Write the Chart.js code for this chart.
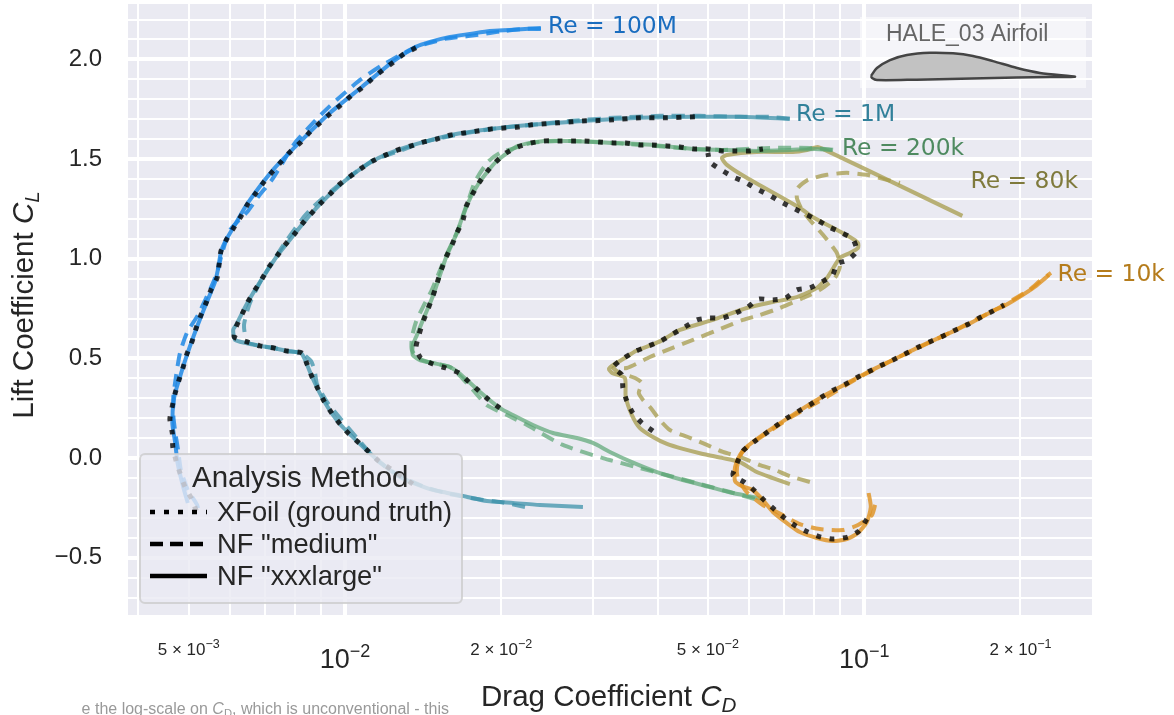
<!DOCTYPE html>
<html>
<head>
<meta charset="utf-8">
<title>HALE_03 Airfoil</title>
<script src="https://cdn.jsdelivr.net/npm/chart.js@4"></script>
<style>
    html, body { margin: 0; padding: 0; background: #fff; overflow: hidden; }
    #chart-polar { position: absolute; left: 0; top: 0; }
    #chart-airfoil { position: absolute; left: 860px; top: 44px; }
</style>
</head>
<body>
<canvas id="chart-polar" width="1174" height="715"></canvas>
<canvas id="chart-airfoil" width="226" height="44"></canvas>
<script>
// Axis ticks
var xGridValues = [0.004, 0.005, 0.006, 0.007, 0.008, 0.009, 0.01, 0.02, 0.03, 0.04, 0.05, 0.06, 0.07, 0.08, 0.09, 0.1, 0.2];
var xMajorValues = [0.01, 0.1];
var xTickValues = [0.005, 0.01, 0.02, 0.05, 0.1, 0.2];
var xTickMantissas = ['5', '', '2', '5', '', '2'];
var xTickExponents = ['\u22123', '\u22122', '\u22122', '\u22122', '\u22121', '\u22121'];
var yGridValues = [-0.7, -0.6, -0.5, -0.4, -0.3, -0.2, -0.1, 0, 0.1, 0.2, 0.3, 0.4, 0.5, 0.6, 0.7, 0.8, 0.9, 1, 1.1, 1.2, 1.3, 1.4, 1.5, 1.6, 1.7, 1.8, 1.9, 2, 2.1, 2.2];
var yTickValues = [-0.5, 0, 0.5, 1, 1.5, 2];
var yTickLabels = ['\u22120.5', '0.0', '0.5', '1.0', '1.5', '2.0'];

// Re = 100M
var cd100mXfoil = [0.0137, 0.01299, 0.01242, 0.01183, 0.01127, 0.01078, 0.01027, 0.00982, 0.00936, 0.00895, 0.00856, 0.00823, 0.00787, 0.00756, 0.00727, 0.00698, 0.00674, 0.0065, 0.00631, 0.00612, 0.00592, 0.00577, 0.00572, 0.00567, 0.00552, 0.0054, 0.00528, 0.00517, 0.00508, 0.00496, 0.00488, 0.00479, 0.00471, 0.00465, 0.0046, 0.00465, 0.00466, 0.00473, 0.00481, 0.00492, 0.00508, 0.00517];
var cl100mXfoil = [2.058, 2.028, 1.988, 1.947, 1.902, 1.857, 1.817, 1.772, 1.727, 1.682, 1.636, 1.586, 1.541, 1.491, 1.441, 1.385, 1.33, 1.275, 1.215, 1.16, 1.099, 1.039, 0.969, 0.904, 0.844, 0.778, 0.718, 0.653, 0.588, 0.522, 0.457, 0.392, 0.327, 0.261, 0.196, 0.126, 0.056, -0.015, -0.075, -0.145, -0.21, -0.265];
var cd100mMedium = [0.02384, 0.02222, 0.02033, 0.01902, 0.01741, 0.01558, 0.01458, 0.0137, 0.01183, 0.01069, 0.00936, 0.00887, 0.00801, 0.0075, 0.00723, 0.0068, 0.00648, 0.00601, 0.0058, 0.00569, 0.00557, 0.00521, 0.00496, 0.00481, 0.00473, 0.00467, 0.00467, 0.00471, 0.00477, 0.00483, 0.00498, 0.00519, 0.00523];
var cl100mMedium = [2.153, 2.153, 2.143, 2.133, 2.118, 2.103, 2.083, 2.063, 1.973, 1.897, 1.767, 1.707, 1.581, 1.461, 1.396, 1.31, 1.235, 1.145, 1.029, 0.944, 0.879, 0.718, 0.628, 0.527, 0.417, 0.307, 0.216, 0.131, 0.041, -0.06, -0.16, -0.235, -0.275];
var cd100mLarge = [0.02384, 0.02222, 0.02078, 0.01902, 0.01741, 0.01593, 0.01458, 0.0137, 0.01242, 0.01078, 0.00936, 0.00823, 0.00727, 0.0065, 0.00612, 0.0059, 0.00577, 0.00569, 0.00562, 0.0054, 0.00517, 0.00496, 0.00479, 0.00469, 0.00465, 0.00471, 0.00476, 0.00488, 0.00498];
var cl100mLarge = [2.158, 2.153, 2.148, 2.143, 2.128, 2.113, 2.088, 2.063, 1.993, 1.862, 1.732, 1.591, 1.446, 1.28, 1.165, 1.094, 1.034, 0.944, 0.884, 0.773, 0.648, 0.517, 0.392, 0.307, 0.176, 0.076, -0.025, -0.145, -0.225];

// Re = 1M
var cd1mXfoil = [0.01351, 0.01226, 0.01162, 0.01112, 0.01064, 0.01018, 0.00978, 0.00943, 0.00911, 0.00887, 0.00864, 0.00845, 0.00827, 0.00773, 0.0073, 0.00686, 0.00648, 0.00612, 0.00617, 0.00634, 0.0065, 0.00671, 0.00692, 0.00714, 0.0074, 0.00766, 0.00797, 0.00827, 0.0086, 0.00895, 0.00936, 0.00978, 0.01027, 0.01078, 0.01132, 0.01199, 0.01265, 0.0134, 0.01419, 0.01503, 0.016, 0.01695, 0.01803, 0.01911, 0.02024, 0.02154, 0.02292, 0.02428, 0.02583, 0.02736, 0.02911, 0.03084, 0.03288, 0.03699, 0.0417, 0.0472];
var cl1mXfoil = [-0.13, -0.055, -0.015, 0.031, 0.076, 0.121, 0.171, 0.226, 0.287, 0.347, 0.407, 0.472, 0.527, 0.537, 0.552, 0.563, 0.583, 0.608, 0.658, 0.723, 0.783, 0.844, 0.899, 0.959, 1.014, 1.069, 1.12, 1.175, 1.225, 1.275, 1.325, 1.375, 1.416, 1.456, 1.491, 1.521, 1.546, 1.566, 1.586, 1.601, 1.621, 1.631, 1.641, 1.651, 1.656, 1.661, 1.672, 1.677, 1.682, 1.687, 1.692, 1.693, 1.697, 1.707, 1.707, 1.712];
var cd1mMedium = [0.02222, 0.01988, 0.01795, 0.01593, 0.01426, 0.01276, 0.01157, 0.01055, 0.00978, 0.00923, 0.00883, 0.00875, 0.0086, 0.00823, 0.00773, 0.0073, 0.00686, 0.00648, 0.00639, 0.00656, 0.00692, 0.00733, 0.00773, 0.0083, 0.00868, 0.00936, 0.01032, 0.01137, 0.01259, 0.01419, 0.016, 0.01911, 0.02292, 0.02736, 0.03288, 0.04042, 0.04826, 0.05763, 0.06583, 0.07193];
var cl1mMedium = [-0.245, -0.22, -0.205, -0.18, -0.145, -0.09, -0.015, 0.101, 0.201, 0.282, 0.372, 0.432, 0.487, 0.527, 0.537, 0.552, 0.563, 0.583, 0.668, 0.778, 0.899, 1.004, 1.094, 1.205, 1.26, 1.335, 1.421, 1.496, 1.536, 1.586, 1.616, 1.651, 1.672, 1.692, 1.707, 1.717, 1.717, 1.712, 1.712, 1.702];
var cd1mLarge = [0.02873, 0.02374, 0.02106, 0.01876, 0.01688, 0.01544, 0.01438, 0.01276, 0.01162, 0.01064, 0.00978, 0.00911, 0.00864, 0.00841, 0.00823, 0.00773, 0.0073, 0.00686, 0.00642, 0.00614, 0.00609, 0.00617, 0.0065, 0.00692, 0.0074, 0.00797, 0.0086, 0.00936, 0.01027, 0.01132, 0.01265, 0.01419, 0.016, 0.01911, 0.02292, 0.02911, 0.03699, 0.0472, 0.05763, 0.07193];
var cl1mLarge = [-0.245, -0.235, -0.225, -0.215, -0.19, -0.17, -0.15, -0.095, -0.015, 0.076, 0.171, 0.287, 0.407, 0.482, 0.527, 0.537, 0.552, 0.563, 0.578, 0.593, 0.643, 0.668, 0.783, 0.899, 1.014, 1.12, 1.225, 1.325, 1.416, 1.491, 1.546, 1.586, 1.621, 1.651, 1.672, 1.692, 1.707, 1.712, 1.712, 1.702];

// Re = 200k
var cd200kXfoil = [0.01988, 0.01893, 0.01811, 0.01733, 0.01658, 0.01564, 0.01477, 0.014, 0.0137, 0.01388, 0.01413, 0.01445, 0.01477, 0.01503, 0.0153, 0.01564, 0.01607, 0.01643, 0.01688, 0.0171, 0.01757, 0.01811, 0.01876, 0.01953, 0.02042, 0.02154, 0.02282, 0.02416, 0.02571, 0.02736, 0.02899, 0.03084, 0.03288, 0.03473, 0.03699, 0.03919, 0.0417, 0.04417, 0.047, 0.05, 0.05322, 0.0566, 0.05997, 0.06383];
var cl200kXfoil = [0.251, 0.292, 0.337, 0.382, 0.427, 0.452, 0.472, 0.502, 0.552, 0.618, 0.683, 0.748, 0.813, 0.874, 0.939, 1.004, 1.069, 1.13, 1.195, 1.26, 1.32, 1.38, 1.436, 1.486, 1.531, 1.561, 1.581, 1.591, 1.591, 1.591, 1.591, 1.586, 1.581, 1.581, 1.571, 1.571, 1.566, 1.561, 1.551, 1.551, 1.541, 1.541, 1.541, 1.551];
var cd200kMedium = [0.06159, 0.05513, 0.04826, 0.0417, 0.03699, 0.0314, 0.02628, 0.02242, 0.02051, 0.01876, 0.01778, 0.01681, 0.01593, 0.0147, 0.01382, 0.01345, 0.01345, 0.0137, 0.01413, 0.0147, 0.01558, 0.01651, 0.01718, 0.01778, 0.01885, 0.01988, 0.02154, 0.02282, 0.02571, 0.03084, 0.03699, 0.047, 0.05322, 0.06583, 0.0786, 0.08783];
var cl200kMedium = [-0.205, -0.17, -0.13, -0.085, -0.05, 0, 0.066, 0.166, 0.216, 0.266, 0.332, 0.402, 0.457, 0.477, 0.502, 0.542, 0.603, 0.683, 0.758, 0.844, 1.004, 1.145, 1.27, 1.385, 1.486, 1.531, 1.561, 1.581, 1.591, 1.586, 1.571, 1.551, 1.546, 1.556, 1.556, 1.546];
var cd200kLarge = [0.06383, 0.05587, 0.05045, 0.04476, 0.0399, 0.0357, 0.03238, 0.03003, 0.02797, 0.02515, 0.02302, 0.02106, 0.01988, 0.01811, 0.01658, 0.01593, 0.01477, 0.01394, 0.01351, 0.01351, 0.01376, 0.01413, 0.01477, 0.01564, 0.01643, 0.0171, 0.01811, 0.01953, 0.02154, 0.02416, 0.02736, 0.03288, 0.03919, 0.047, 0.05322, 0.06297, 0.07193, 0.08037, 0.08673];
var cl200kLarge = [-0.205, -0.175, -0.145, -0.11, -0.07, -0.02, 0.031, 0.076, 0.101, 0.126, 0.166, 0.216, 0.251, 0.337, 0.427, 0.457, 0.477, 0.492, 0.517, 0.567, 0.618, 0.693, 0.813, 1.004, 1.13, 1.26, 1.38, 1.486, 1.566, 1.591, 1.591, 1.581, 1.571, 1.551, 1.546, 1.541, 1.546, 1.551, 1.546];

// Re = 80k
var cd80kXfoil = [0.03919, 0.03733, 0.03586, 0.0349, 0.0343, 0.03415, 0.03288, 0.03445, 0.03633, 0.0385, 0.0406, 0.0428, 0.04516, 0.04762, 0.0502, 0.05345, 0.0566, 0.0597, 0.0627, 0.0667, 0.0706, 0.0742, 0.0786, 0.0829, 0.087, 0.0886, 0.093, 0.0968, 0.0951, 0.0906, 0.0855, 0.0811, 0.0769, 0.0729, 0.0691, 0.0655, 0.0621, 0.0589, 0.0559, 0.053, 0.05045, 0.05];
var cl80kXfoil = [0.136, 0.176, 0.226, 0.287, 0.352, 0.417, 0.457, 0.502, 0.537, 0.563, 0.588, 0.623, 0.658, 0.693, 0.703, 0.703, 0.728, 0.758, 0.798, 0.793, 0.803, 0.844, 0.854, 0.884, 0.919, 0.974, 0.994, 1.039, 1.099, 1.13, 1.16, 1.195, 1.225, 1.255, 1.285, 1.32, 1.35, 1.385, 1.411, 1.446, 1.486, 1.531];
var cd80kMedium = [0.0786, 0.07193, 0.0667, 0.06297, 0.05763, 0.05345, 0.0498, 0.04575, 0.04225, 0.04042, 0.03867, 0.0375, 0.0368, 0.0373, 0.0362, 0.03385, 0.03288, 0.0349, 0.03867, 0.0417, 0.0468, 0.05345, 0.0584, 0.06297, 0.06881, 0.0762, 0.08217, 0.0878, 0.08979, 0.0886, 0.0833, 0.0786, 0.0759, 0.0742, 0.0745, 0.0779, 0.0848, 0.0926, 0.1012, 0.1106, 0.1172];
var cl80kMedium = [-0.12, -0.09, -0.055, -0.035, 0.006, 0.031, 0.066, 0.106, 0.141, 0.191, 0.256, 0.292, 0.327, 0.377, 0.402, 0.427, 0.452, 0.452, 0.507, 0.542, 0.593, 0.653, 0.693, 0.718, 0.753, 0.803, 0.844, 0.904, 0.959, 1.029, 1.12, 1.195, 1.245, 1.305, 1.355, 1.396, 1.421, 1.431, 1.421, 1.396, 1.38];
var cd80kLarge = [0.07193, 0.0667, 0.0621, 0.05763, 0.05345, 0.0489, 0.04476, 0.0417, 0.03919, 0.03699, 0.0357, 0.03473, 0.0346, 0.0327, 0.03224, 0.03288, 0.0346, 0.03633, 0.0385, 0.0406, 0.04417, 0.05115, 0.0594, 0.0667, 0.0742, 0.0811, 0.0851, 0.08979, 0.09386, 0.0973, 0.0973, 0.09386, 0.0796, 0.07519, 0.0594, 0.0544, 0.0532, 0.0544, 0.0621, 0.0729, 0.0776, 0.0814, 0.084, 0.1012, 0.1546];
var cl80kLarge = [-0.13, -0.1, -0.07, -0.02, 0, 0.021, 0.046, 0.071, 0.106, 0.151, 0.216, 0.307, 0.402, 0.427, 0.447, 0.467, 0.502, 0.537, 0.563, 0.588, 0.643, 0.693, 0.753, 0.783, 0.808, 0.854, 0.909, 1.004, 1.029, 1.054, 1.079, 1.109, 1.21, 1.255, 1.406, 1.471, 1.506, 1.521, 1.536, 1.536, 1.546, 1.561, 1.546, 1.446, 1.215];

// Re = 10k
var cd10kXfoil = [0.1012, 0.0977, 0.093, 0.0874, 0.0825, 0.0779, 0.0739, 0.0703, 0.067, 0.0641, 0.0616, 0.0587, 0.0559, 0.0569, 0.0584, 0.0613, 0.0644, 0.0676, 0.071, 0.0748, 0.079, 0.0829, 0.0874, 0.0922, 0.0973, 0.1026, 0.1082, 0.1146, 0.1208, 0.1273, 0.1349, 0.142, 0.15, 0.159, 0.168, 0.177, 0.186];
var cl10kXfoil = [-0.306, -0.366, -0.396, -0.406, -0.396, -0.371, -0.341, -0.301, -0.255, -0.21, -0.165, -0.12, -0.085, -0.025, 0.036, 0.081, 0.121, 0.161, 0.201, 0.236, 0.271, 0.307, 0.342, 0.372, 0.407, 0.437, 0.467, 0.497, 0.527, 0.557, 0.588, 0.613, 0.643, 0.673, 0.708, 0.738, 0.768];
var cd10kMedium = [0.105, 0.1035, 0.0973, 0.091, 0.08217, 0.07519, 0.0679, 0.0638, 0.0594, 0.0571, 0.0569, 0.0581, 0.06024, 0.065, 0.0729, 0.0848, 0.0973, 0.1146, 0.142, 0.177, 0.186, 0.208, 0.218, 0.229];
var cl10kMedium = [-0.235, -0.286, -0.336, -0.361, -0.356, -0.331, -0.27, -0.235, -0.17, -0.1, -0.045, 0.026, 0.066, 0.126, 0.211, 0.307, 0.402, 0.497, 0.613, 0.738, 0.768, 0.844, 0.889, 0.929];
var cd10kLarge = [0.102, 0.103, 0.1012, 0.0973, 0.0926, 0.087, 0.0811, 0.07519, 0.071, 0.0667, 0.0638, 0.061, 0.0581, 0.0564, 0.0564, 0.05763, 0.0594, 0.06297, 0.0676, 0.0748, 0.0829, 0.0922, 0.1026, 0.1146, 0.1273, 0.142, 0.159, 0.177, 0.186, 0.199, 0.213, 0.227];
var cl10kLarge = [-0.175, -0.245, -0.321, -0.376, -0.406, -0.416, -0.401, -0.371, -0.326, -0.27, -0.21, -0.16, -0.14, -0.115, -0.045, 0.016, 0.056, 0.106, 0.161, 0.236, 0.307, 0.372, 0.437, 0.497, 0.557, 0.613, 0.673, 0.738, 0.763, 0.808, 0.859, 0.919];

// Airfoil outline, chord fractions
var airfoilX = [0, 0.029, 0.093, 0.176, 0.289, 0.402, 0.5, 0.598, 0.716, 0.828, 1, 0.877, 0.549, 0.225, 0.029, 0.005, 0];
var airfoilY = [0.005, 0.044, 0.083, 0.108, 0.119, 0.116, 0.103, 0.078, 0.044, 0.02, 0.0015, 0, -0.006, -0.013, -0.015, -0.005, 0.005];

// Curve labels
var reLabels = ['Re = 100M', 'Re = 1M', 'Re = 200k', 'Re = 80k', 'Re = 10k'];
var reLabelCd = [0.0246, 0.0739, 0.0906, 0.1603, 0.2357];
var reLabelCl = [2.163, 1.722, 1.551, 1.385, 0.919];
var reLabelColors = ['#1a6dbf', '#31809a', '#4e8a60', '#7f7a3c', '#b57c1c'];

var legendTitle = 'Analysis Method';
var legendLabels = ['XFoil (ground truth)', 'NF "medium"', 'NF "xxxlarge"'];

var sans = '"Liberation Sans", Arial, sans-serif';
var textColor = '#262626';

function toPoints(xs, ys) {
    var points = [];
    for (var i = 0; i < xs.length; i++) {
        points.push({ x: xs[i], y: ys[i] });
    }
    return points;
}

function curve(xs, ys, color, width, dash) {
    return {
        data: toPoints(xs, ys),
        showLine: true,
        fill: false,
        pointRadius: 0,
        borderColor: color,
        borderWidth: width,
        borderDash: dash,
        tension: 0.2,
        borderCapStyle: 'butt',
        borderJoinStyle: 'round'
    };
}

var dotColor = 'rgba(0, 0, 0, 0.78)';
var dotDash = [5, 8.5];
var dashDash = [13, 8];
var blue = 'rgba(30, 136, 229, 0.85)';
var teal = 'rgba(60, 145, 170, 0.75)';
var green = 'rgba(90, 165, 115, 0.7)';
var olive = 'rgba(165, 155, 75, 0.75)';
var orange = 'rgba(222, 145, 30, 0.8)';

// First dataset is painted last, so the dotted XFoil curves go first
var datasets = [
    curve(cd10kXfoil, cl10kXfoil, dotColor, 5, dotDash),
    curve(cd80kXfoil, cl80kXfoil, dotColor, 5, dotDash),
    curve(cd200kXfoil, cl200kXfoil, dotColor, 5, dotDash),
    curve(cd1mXfoil, cl1mXfoil, dotColor, 5, dotDash),
    curve(cd100mXfoil, cl100mXfoil, dotColor, 5, dotDash),
    curve(cd10kLarge, cl10kLarge, orange, 4, []),
    curve(cd10kMedium, cl10kMedium, orange, 4, dashDash),
    curve(cd200kLarge, cl200kLarge, green, 4, []),
    curve(cd200kMedium, cl200kMedium, green, 4, dashDash),
    curve(cd80kLarge, cl80kLarge, olive, 4, []),
    curve(cd80kMedium, cl80kMedium, olive, 4, dashDash),
    curve(cd1mLarge, cl1mLarge, teal, 4, []),
    curve(cd1mMedium, cl1mMedium, teal, 4, dashDash),
    curve(cd100mLarge, cl100mLarge, blue, 4, []),
    curve(cd100mMedium, cl100mMedium, blue, 4, dashDash)
];

// Text runs with italics and subscripts, x is the left edge
function drawRuns(ctx, runs, x, y, size) {
    runs.forEach(function (run) {
        var s = run.sub ? size * 0.7 : size;
        ctx.font = (run.italic ? 'italic ' : '') + s + 'px ' + sans;
        ctx.fillText(run.text, x, run.sub ? y + size * 0.2 : y);
        x += ctx.measureText(run.text).width;
    });
}

function runsWidth(ctx, runs, size) {
    var w = 0;
    runs.forEach(function (run) {
        var s = run.sub ? size * 0.7 : size;
        ctx.font = (run.italic ? 'italic ' : '') + s + 'px ' + sans;
        w += ctx.measureText(run.text).width;
    });
    return w;
}

var backgroundPlugin = {
    id: 'plotBackground',
    beforeDraw: function (chart) {
        var a = chart.chartArea;
        chart.ctx.fillStyle = '#eaeaf2';
        chart.ctx.fillRect(a.left, a.top, a.right - a.left, a.bottom - a.top);
    }
};

var overlayPlugin = {
    id: 'overlay',
    afterDatasetsDraw: function (chart) {
        var ctx = chart.ctx;
        var xScale = chart.scales.x;
        var yScale = chart.scales.y;
        ctx.save();
        ctx.textBaseline = 'alphabetic';
        ctx.textAlign = 'left';

        // Re labels next to the curve ends
        ctx.font = '23.4px "DejaVu Sans", sans-serif';
        ctx.textBaseline = 'middle';
        reLabels.forEach(function (label, i) {
            ctx.fillStyle = reLabelColors[i];
            ctx.fillText(label, xScale.getPixelForValue(reLabelCd[i]), yScale.getPixelForValue(reLabelCl[i]));
        });
        ctx.textBaseline = 'alphabetic';

        // Airfoil inset box
        ctx.fillStyle = 'rgba(255, 255, 255, 0.5)';
        ctx.fillRect(860, 17, 226, 71);
        ctx.fillStyle = '#666666';
        ctx.font = '23px ' + sans;
        ctx.fillText('HALE_03 Airfoil', 886, 41);

        // Legend
        ctx.beginPath();
        ctx.roundRect(140, 454, 322, 149, 5);
        ctx.fillStyle = 'rgba(234, 234, 242, 0.8)';
        ctx.fill();
        ctx.lineWidth = 2;
        ctx.strokeStyle = 'rgba(204, 204, 204, 0.8)';
        ctx.stroke();

        ctx.fillStyle = textColor;
        ctx.font = '29.5px ' + sans;
        ctx.fillText(legendTitle, 192, 487);

        var rowY = [512, 544, 576];
        var rowDash = [[5, 9], [13, 7], []];
        ctx.strokeStyle = '#000';
        ctx.lineWidth = 4.5;
        legendLabels.forEach(function (label, i) {
            ctx.setLineDash(rowDash[i]);
            ctx.beginPath();
            ctx.moveTo(150, rowY[i]);
            ctx.lineTo(207, rowY[i]);
            ctx.stroke();
            ctx.font = '27.3px ' + sans;
            ctx.fillText(label, 217, rowY[i] + 9);
        });
        ctx.setLineDash([]);
        ctx.restore();
    },
    afterDraw: function (chart) {
        var ctx = chart.ctx;
        var xScale = chart.scales.x;
        ctx.save();
        ctx.fillStyle = textColor;
        ctx.textBaseline = 'alphabetic';
        ctx.textAlign = 'left';

        // x tick labels: the small ones have a mantissa, decades are big
        xTickValues.forEach(function (v, i) {
            var big = xTickMantissas[i] === '';
            var base = big ? (xTickMantissas[i] + '10') : (xTickMantissas[i] + ' \u00d7 10');
            var baseSize = big ? 27 : 17;
            var supSize = big ? 18 : 12.5;
            ctx.font = baseSize + 'px ' + sans;
            var baseW = ctx.measureText(base).width;
            ctx.font = supSize + 'px ' + sans;
            var supW = ctx.measureText(xTickExponents[i]).width;
            var left = xScale.getPixelForValue(v) - (baseW + supW) / 2;
            var y = big ? 668 : 655;
            ctx.font = baseSize + 'px ' + sans;
            ctx.fillText(base, left, y);
            ctx.font = supSize + 'px ' + sans;
            ctx.fillText(xTickExponents[i], left + baseW, y - (big ? 11 : 7));
        });

        // Axis titles
        var xRuns = [{ text: 'Drag Coefficient ' }, { text: 'C', italic: true }, { text: 'D', italic: true, sub: true }];
        drawRuns(ctx, xRuns, 481, 706, 29.5);

        var yRuns = [{ text: 'Lift Coefficient ' }, { text: 'C', italic: true }, { text: 'L', italic: true, sub: true }];
        ctx.save();
        ctx.translate(33, 305);
        ctx.rotate(-Math.PI / 2);
        drawRuns(ctx, yRuns, -runsWidth(ctx, yRuns, 29.5) / 2, 0, 29.5);
        ctx.restore();

        // Caption cut off by the page edge
        var noteRuns = [{ text: 'e the log-scale on ' }, { text: 'C', italic: true }, { text: 'D', sub: true }, { text: ', which is unconventional - this' }];
        ctx.fillStyle = '#999999';
        drawRuns(ctx, noteRuns, 449 - runsWidth(ctx, noteRuns, 16), 714, 16);
        ctx.restore();
    }
};

function isIn(list, value) {
    return list.some(function (v) {
        return Math.abs(v - value) < 1e-9;
    });
}

new Chart(document.getElementById('chart-polar').getContext('2d'), {
    type: 'scatter',
    data: { datasets: datasets },
    options: {
        responsive: false,
        animation: false,
        events: [],
        layout: { padding: { top: 4, right: 82, left: 0, bottom: 0 } },
        plugins: { legend: { display: false }, tooltip: { enabled: false } },
        scales: {
            x: {
                type: 'logarithmic',
                min: 0.00382,
                max: 0.2747,
                afterBuildTicks: function (scale) {
                    scale.ticks = xGridValues.map(function (v) { return { value: v }; });
                },
                afterFit: function (scale) {
                    scale.height = 100;
                    scale.paddingLeft = 0;
                    scale.paddingRight = 0;
                },
                border: { display: false },
                ticks: { display: false },
                grid: {
                    color: '#ffffff',
                    drawTicks: false,
                    lineWidth: function (c) { return c.tick && isIn(xMajorValues, c.tick.value) ? 4 : 2; }
                }
            },
            y: {
                min: -0.787,
                max: 2.278,
                afterBuildTicks: function (scale) {
                    scale.ticks = yGridValues.map(function (v) { return { value: v }; });
                },
                afterFit: function (scale) {
                    scale.width = 128;
                    scale.paddingTop = 0;
                    scale.paddingBottom = 0;
                },
                border: { display: false },
                ticks: {
                    autoSkip: false,
                    padding: 26,
                    color: textColor,
                    font: { family: sans, size: 24 },
                    callback: function (value) {
                        for (var i = 0; i < yTickValues.length; i++) {
                            if (Math.abs(yTickValues[i] - value) < 1e-9) {
                                return yTickLabels[i];
                            }
                        }
                        return '';
                    }
                },
                grid: {
                    color: '#ffffff',
                    drawTicks: false,
                    lineWidth: function (c) { return c.tick && isIn(yTickValues, c.tick.value) ? 4 : 2; }
                }
            }
        }
    },
    plugins: [backgroundPlugin, overlayPlugin]
});

// Inset airfoil shape
new Chart(document.getElementById('chart-airfoil').getContext('2d'), {
    type: 'scatter',
    data: {
        datasets: [{
            data: toPoints(airfoilX, airfoilY),
            showLine: true,
            fill: 'shape',
            pointRadius: 0,
            backgroundColor: '#c2c2c2',
            borderColor: '#444444',
            borderWidth: 2.5,
            tension: 0.3
        }]
    },
    options: {
        responsive: false,
        animation: false,
        events: [],
        layout: { padding: 0 },
        plugins: { legend: { display: false }, tooltip: { enabled: false } },
        scales: {
            x: { display: false, min: -0.054, max: 1.054 },
            y: { display: false, min: -0.054, max: 0.1618 }
        }
    }
});
</script>
</body>
</html>
